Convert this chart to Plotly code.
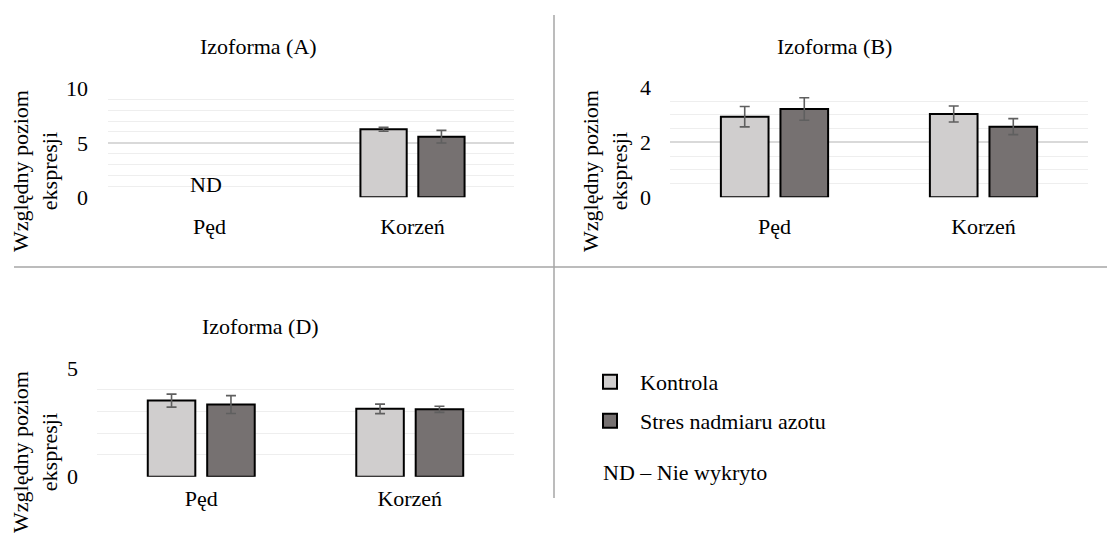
import plotly.graph_objects as go

W, H = 1107, 535
FONT = "Liberation Serif, Times New Roman, DejaVu Serif, serif"

categories = ["Pęd", "Korzeń"]
series_names = ["Kontrola", "Stres nadmiaru azotu"]

# Izoforma (A)
a_kontrola = [None, 6.24]
a_kontrola_err = [None, 0.18]
a_stres = [None, 5.56]
a_stres_err = [None, 0.58]

# Izoforma (B)
b_kontrola = [2.93, 3.03]
b_kontrola_err = [0.37, 0.29]
b_stres = [3.21, 2.57]
b_stres_err = [0.41, 0.29]

# Izoforma (D)
d_kontrola = [3.50, 3.12]
d_kontrola_err = [0.30, 0.22]
d_stres = [3.32, 3.10]
d_stres_err = [0.41, 0.14]

panel_titles = ["Izoforma (A)", "Izoforma (B)", "Izoforma (D)"]
y_title = "Względny poziom<br>ekspresji"
nd_label = "ND"
nd_note = "ND – Nie wykryto"

C_K = "#D0CECE"
C_S = "#767171"
ERR_C = "#5f5f5f"


def px(x):
    return x / W


def py(y):
    return 1 - y / H


fig = go.Figure()

panels = [
    ("x", "y", a_kontrola, a_kontrola_err, a_stres, a_stres_err),
    ("x2", "y2", b_kontrola, b_kontrola_err, b_stres, b_stres_err),
    ("x3", "y3", d_kontrola, d_kontrola_err, d_stres, d_stres_err),
]
for xa, ya, kv, ke, sv, se in panels:
    for vals, errs, col, name in [(kv, ke, C_K, series_names[0]), (sv, se, C_S, series_names[1])]:
        fig.add_trace(go.Bar(
            x=categories, y=vals, name=name, xaxis=xa, yaxis=ya,
            marker=dict(color=col, line=dict(color="#000000", width=2)),
            error_y=dict(type="data", array=errs, visible=True, color=ERR_C,
                         thickness=1.6, width=5),
            showlegend=False, offsetgroup=name,
        ))

# legend-only traces
fig.add_trace(go.Scatter(x=[None], y=[None], mode="markers", name=series_names[0],
                         marker=dict(symbol="square", size=14, color=C_K,
                                     line=dict(color="#000000", width=2)),
                         legend="legend", showlegend=True))
fig.add_trace(go.Scatter(x=[None], y=[None], mode="markers", name=series_names[1],
                         marker=dict(symbol="square", size=14, color=C_S,
                                     line=dict(color="#000000", width=2)),
                         legend="legend2", showlegend=True))

xcommon = dict(type="category", showgrid=False, showline=False, zeroline=False,
               ticks="", tickfont=dict(family=FONT, size=22, color="#000"),
               fixedrange=True)
ycommon = dict(showline=False, zeroline=False, ticks="",
               gridcolor="#d9d9d9", gridwidth=1.5,
               tickfont=dict(family=FONT, size=22, color="#000"), fixedrange=True)

fig.update_layout(
    width=W, height=H,
    margin=dict(l=0, r=0, t=0, b=0, autoexpand=False),
    paper_bgcolor="white", plot_bgcolor="white",
    barmode="group", bargap=0.43, bargroupgap=0.2,
    font=dict(family=FONT, size=22, color="#000"),
    xaxis=dict(xcommon, domain=[px(108), px(514)], anchor="y", ticklabelstandoff=14),
    yaxis=dict(ycommon, domain=[py(197.3), py(88.3)], anchor="x", range=[0, 10],
               dtick=5, tick0=0, ticklabelstandoff=19,
               minor=dict(dtick=1, tick0=0, showgrid=True, gridcolor="#eeeeee", gridwidth=1)),
    xaxis2=dict(xcommon, domain=[px(670), px(1088)], anchor="y2", ticklabelstandoff=14),
    yaxis2=dict(ycommon, domain=[py(197.3), py(87.3)], anchor="x2", range=[0, 4],
                dtick=2, tick0=0, ticklabelstandoff=18,
                minor=dict(dtick=0.5, tick0=0, showgrid=True, gridcolor="#eeeeee", gridwidth=1)),
    xaxis3=dict(xcommon, domain=[px(97), px(514)], anchor="y3", ticklabelstandoff=6),
    yaxis3=dict(ycommon, domain=[py(476.7), py(368)], anchor="x3", range=[0, 5],
                dtick=5, tick0=0, ticklabelstandoff=18,
                minor=dict(dtick=1, tick0=0, showgrid=True, gridcolor="#eeeeee", gridwidth=1)),
    legend=dict(x=px(580), y=py(382), xanchor="left", yanchor="middle",
                bgcolor="rgba(0,0,0,0)", borderwidth=0, itemwidth=50,
                font=dict(family=FONT, size=22, color="#000")),
    legend2=dict(x=px(580), y=py(421), xanchor="left", yanchor="middle",
                 bgcolor="rgba(0,0,0,0)", borderwidth=0, itemwidth=50,
                 font=dict(family=FONT, size=22, color="#000")),
)

ann = []
# panel titles
for t, (cx, cy) in zip(panel_titles, [(258, 47), (834, 47), (260, 326)]):
    ann.append(dict(text=t, x=px(cx), y=py(cy), xref="paper", yref="paper",
                    xanchor="center", yanchor="middle", showarrow=False,
                    font=dict(family=FONT, size=22, color="#000")))
# y axis titles
for cx, cy in [(35, 171), (605, 171), (35, 452)]:
    ann.append(dict(text=y_title, x=px(cx), y=py(cy), xref="paper", yref="paper",
                    xanchor="center", yanchor="middle", showarrow=False, textangle=-90,
                    font=dict(family=FONT, size=22, color="#000")))
# ND
ann.append(dict(text=nd_label, x=categories[0], y=1.22, xref="x", yref="y",
                xanchor="center", yanchor="middle", showarrow=False, xshift=-4,
                font=dict(family=FONT, size=22, color="#000")))
# ND note
ann.append(dict(text=nd_note, x=px(601), y=py(472), xref="paper", yref="paper",
                xanchor="left", yanchor="middle", showarrow=False,
                font=dict(family=FONT, size=22, color="#000")))
fig.update_layout(annotations=ann)

fig.update_layout(shapes=[
    dict(type="line", xref="paper", yref="paper", x0=px(554), x1=px(554),
         y0=py(15), y1=py(498), line=dict(color="#a6a6a6", width=1.5)),
    dict(type="line", xref="paper", yref="paper", x0=px(14), x1=px(1107),
         y0=py(267), y1=py(267), line=dict(color="#a6a6a6", width=1.5)),
])

fig.write_html("out.html", config={"displayModeBar": False},
               post_script="document.body.style.margin='0';document.body.style.overflow='hidden';")
